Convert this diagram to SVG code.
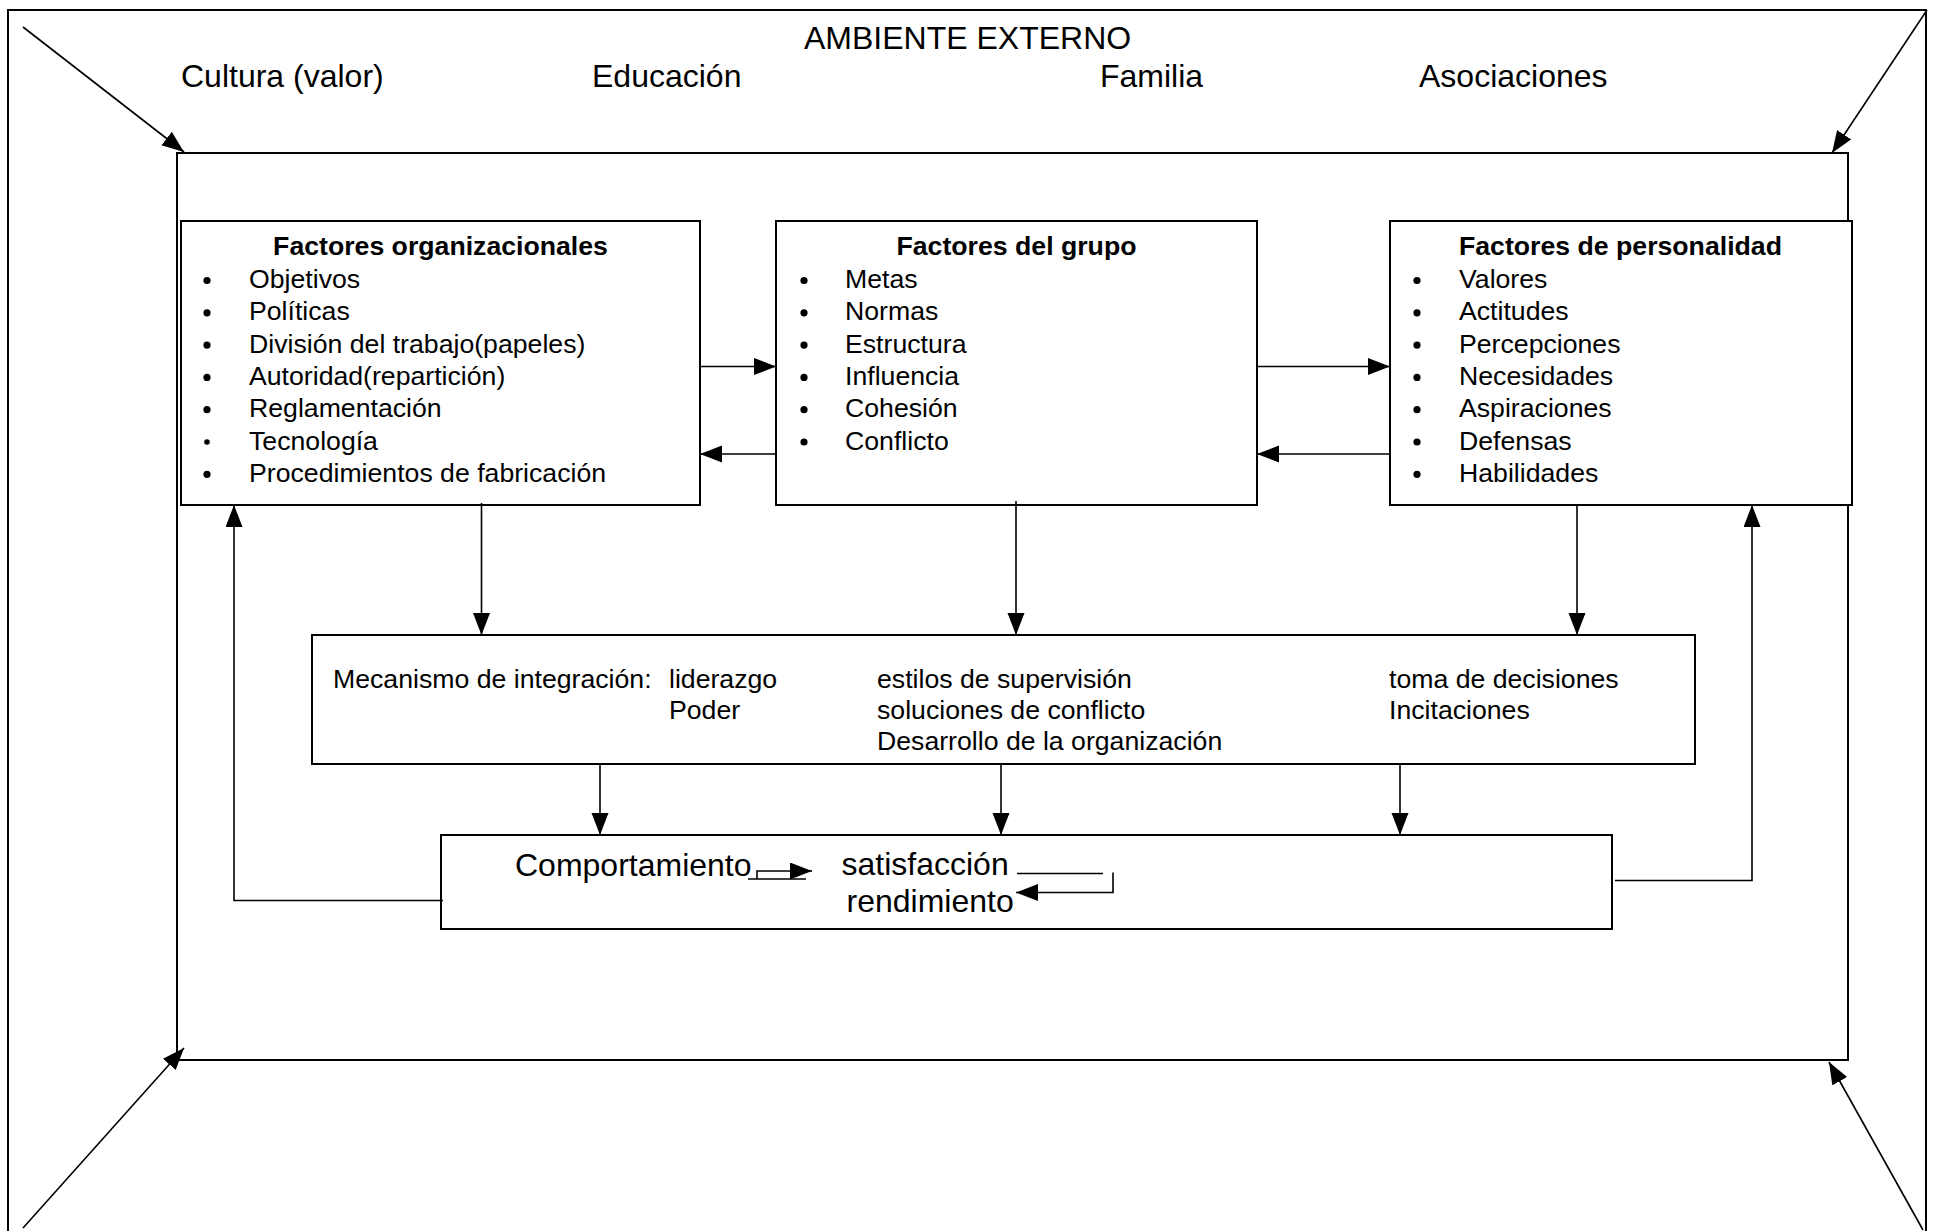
<svg xmlns="http://www.w3.org/2000/svg" width="1936" height="1231" viewBox="0 0 1936 1231">
<defs>
<style>
text{font-family:"Liberation Sans",Arial,sans-serif;fill:#000}
.lg{font-size:32px}
.md{font-size:26.67px}
.hd{font-size:26.67px;font-weight:bold}
.box{fill:#fff;stroke:#000;stroke-width:2}
.frame{fill:none;stroke:#000;stroke-width:2}
.ln{fill:none;stroke:#000;stroke-width:1.6}
.arr{marker-end:url(#ah)}
</style>
<marker id="ah" markerUnits="userSpaceOnUse" markerWidth="24" markerHeight="20" refX="22" refY="8.5" orient="auto">
<path d="M0,0 L22,8.5 L0,17 z" fill="#000"/>
</marker>
</defs>
<rect width="1936" height="1231" fill="#fff"/>

<g id="ambiente-externo">
<path class="frame" d="M8,1240 V10 H1926 V1240"/>
<text class="lg" x="804" y="49">AMBIENTE EXTERNO</text>
<text class="lg" x="181" y="87">Cultura (valor)</text>
<text class="lg" x="592" y="87">Educación</text>
<text class="lg" x="1100" y="87">Familia</text>
<text class="lg" x="1419" y="87">Asociaciones</text>
</g>

<g id="organizacion">
<rect class="frame" x="177" y="153" width="1671" height="907"/>
</g>

<g id="factores-organizacionales">
<rect class="box" x="181" y="221" width="519" height="284"/>
<text class="hd" x="440.5" y="255" text-anchor="middle">Factores organizacionales</text>
<g>
<circle cx="207" cy="280.5" r="3.6"/><circle cx="207" cy="312.8" r="3.6"/><circle cx="207" cy="345.1" r="3.6"/><circle cx="207" cy="377.4" r="3.6"/><circle cx="207" cy="409.7" r="3.6"/><circle cx="207" cy="442" r="2.8"/><circle cx="207" cy="474.3" r="3.6"/>
</g>
<text class="md" x="249" y="288">Objetivos</text>
<text class="md" x="249" y="320.3">Políticas</text>
<text class="md" x="249" y="352.6">División del trabajo(papeles)</text>
<text class="md" x="249" y="384.9">Autoridad(repartición)</text>
<text class="md" x="249" y="417.2">Reglamentación</text>
<text class="md" x="249" y="449.5">Tecnología</text>
<text class="md" x="249" y="481.8">Procedimientos de fabricación</text>
</g>

<g id="factores-grupo">
<rect class="box" x="776" y="221" width="481" height="284"/>
<text class="hd" x="1016.5" y="255" text-anchor="middle">Factores del grupo</text>
<g>
<circle cx="804" cy="280.5" r="3.6"/><circle cx="804" cy="312.8" r="3.6"/><circle cx="804" cy="345.1" r="3.6"/><circle cx="804" cy="377.4" r="3.6"/><circle cx="804" cy="409.7" r="3.6"/><circle cx="804" cy="442" r="3.6"/>
</g>
<text class="md" x="845" y="288">Metas</text>
<text class="md" x="845" y="320.3">Normas</text>
<text class="md" x="845" y="352.6">Estructura</text>
<text class="md" x="845" y="384.9">Influencia</text>
<text class="md" x="845" y="417.2">Cohesión</text>
<text class="md" x="845" y="449.5">Conflicto</text>
</g>

<g id="factores-personalidad">
<rect class="box" x="1390" y="221" width="462" height="284"/>
<text class="hd" x="1459" y="255">Factores de personalidad</text>
<g>
<circle cx="1417" cy="280.5" r="3.6"/><circle cx="1417" cy="312.8" r="3.6"/><circle cx="1417" cy="345.1" r="3.6"/><circle cx="1417" cy="377.4" r="3.6"/><circle cx="1417" cy="409.7" r="3.6"/><circle cx="1417" cy="442" r="3.6"/><circle cx="1417" cy="474.3" r="3.6"/>
</g>
<text class="md" x="1459" y="288">Valores</text>
<text class="md" x="1459" y="320.3">Actitudes</text>
<text class="md" x="1459" y="352.6">Percepciones</text>
<text class="md" x="1459" y="384.9">Necesidades</text>
<text class="md" x="1459" y="417.2">Aspiraciones</text>
<text class="md" x="1459" y="449.5">Defensas</text>
<text class="md" x="1459" y="481.8">Habilidades</text>
</g>

<g id="mecanismo-integracion">
<rect class="box" x="312" y="635" width="1383" height="129"/>
<text class="md" x="333" y="687.5">Mecanismo de integración:</text>
<text class="md" x="669" y="687.5">liderazgo</text>
<text class="md" x="669" y="718.5">Poder</text>
<text class="md" x="877" y="687.5">estilos de supervisión</text>
<text class="md" x="877" y="718.5">soluciones de conflicto</text>
<text class="md" x="877" y="749.5">Desarrollo de la organización</text>
<text class="md" x="1389" y="687.5">toma de decisiones</text>
<text class="md" x="1389" y="718.5">Incitaciones</text>
</g>

<g id="comportamiento">
<rect class="box" x="441" y="835" width="1171" height="94"/>
<text class="lg" x="515" y="876">Comportamiento</text>
<text class="lg" x="841.5" y="875">satisfacción</text>
<text class="lg" x="846.5" y="911.5">rendimiento</text>
<path class="ln" d="M748,879 H806"/>
<path class="ln arr" d="M757,879 V871 H812"/>
<path class="ln" d="M1017,873.5 H1103"/>
<path class="ln arr" d="M1113,872.5 V892.5 H1016"/>
</g>

<g id="connectors">
<path class="ln arr" d="M23,27 L184,152"/>
<path class="ln arr" d="M1927,10 L1832,153"/>
<path class="ln arr" d="M23,1228 L184,1048"/>
<path class="ln arr" d="M1923,1230 L1829,1062"/>
<path class="ln arr" d="M700,366.5 H776"/>
<path class="ln arr" d="M776,454 H700"/>
<path class="ln arr" d="M1257,366.5 H1390"/>
<path class="ln arr" d="M1390,454 H1257"/>
<path class="ln arr" d="M481.5,503 V635"/>
<path class="ln arr" d="M1016,501 V635"/>
<path class="ln arr" d="M1577,505 V635"/>
<path class="ln arr" d="M600,764 V835"/>
<path class="ln arr" d="M1001,764 V835"/>
<path class="ln arr" d="M1400,764 V835"/>
<path class="ln arr" d="M443,900.5 H234 V505"/>
<path class="ln arr" d="M1615,880.5 H1752 V505"/>
</g>
</svg>
